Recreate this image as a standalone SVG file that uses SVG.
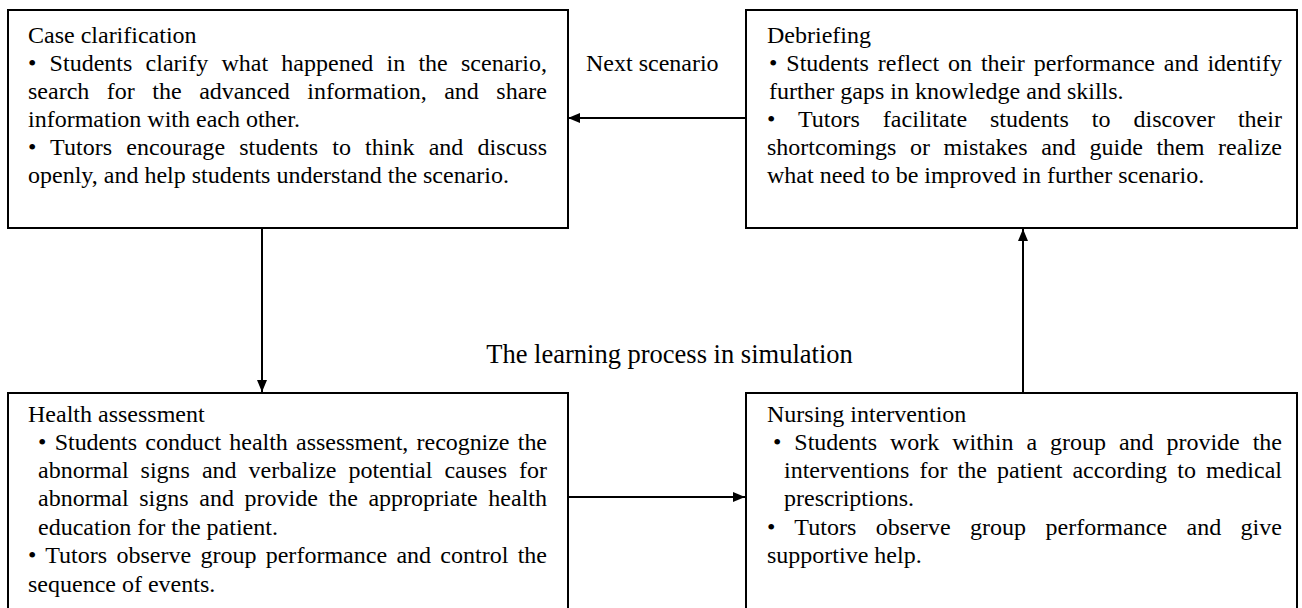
<svg xmlns="http://www.w3.org/2000/svg" width="1302" height="608" viewBox="0 0 1302 608">
<defs>
<marker id="ah" viewBox="0 0 12 10" refX="12" refY="5" markerWidth="12" markerHeight="10" markerUnits="userSpaceOnUse" orient="auto">
<path d="M0,0 L12,5 L0,10 z" fill="#000"/>
</marker>
<style>
.box{fill:#fff;stroke:#000;stroke-width:2}
text{font-family:"Liberation Serif","Times New Roman",serif;font-size:24px;fill:#000}
.conn line{stroke:#000;stroke-width:2;marker-end:url(#ah)}
</style>
</defs>
<rect width="1302" height="608" fill="#fff"/>
<g class="conn">
<line x1="262" y1="228" x2="262" y2="392"/>
<line x1="567" y1="497" x2="745" y2="497"/>
<line x1="1023" y1="393" x2="1023" y2="229"/>
<line x1="746" y1="118" x2="568" y2="118"/>
</g>
<g id="case">
<rect class="box" x="8" y="10" width="560" height="218"/>
<text x="28" y="43">Case clarification</text>
<text x="28" y="71" word-spacing="7.2" textLength="519" lengthAdjust="spacing">• Students clarify what happened in the scenario,</text>
<text x="28" y="99" word-spacing="11.5" textLength="519" lengthAdjust="spacing">search for the advanced information, and share</text>
<text x="28" y="127">information with each other.</text>
<text x="28" y="155" word-spacing="8.1" textLength="519" lengthAdjust="spacing">• Tutors encourage students to think and discuss</text>
<text x="28" y="183">openly, and help students understand the scenario.</text>
</g>
<g id="debrief">
<rect class="box" x="746" y="10" width="551" height="218"/>
<text x="767" y="43">Debriefing</text>
<text x="769" y="71" word-spacing="2.9" textLength="513" lengthAdjust="spacing">• Students reflect on their performance and identify</text>
<text x="769" y="99">further gaps in knowledge and skills.</text>
<text x="767" y="127" word-spacing="16.9" textLength="515" lengthAdjust="spacing">• Tutors facilitate students to discover their</text>
<text x="767" y="155" word-spacing="7.6" textLength="515" lengthAdjust="spacing">shortcomings or mistakes and guide them realize</text>
<text x="767" y="183">what need to be improved in further scenario.</text>
</g>
<g id="health">
<rect class="box" x="8" y="393" width="560" height="230"/>
<text x="28" y="422">Health assessment</text>
<text x="38" y="450" word-spacing="2.4" textLength="509" lengthAdjust="spacing">• Students conduct health assessment, recognize the</text>
<text x="38" y="478" word-spacing="6.0" textLength="509" lengthAdjust="spacing">abnormal signs and verbalize potential causes for</text>
<text x="38" y="506" word-spacing="4.6" textLength="509" lengthAdjust="spacing">abnormal signs and provide the appropriate health</text>
<text x="38" y="535">education for the patient.</text>
<text x="28" y="563" word-spacing="3.2" textLength="519" lengthAdjust="spacing">• Tutors observe group performance and control the</text>
<text x="28" y="592">sequence of events.</text>
</g>
<g id="nursing">
<rect class="box" x="746" y="393" width="551" height="230"/>
<text x="767" y="422">Nursing intervention</text>
<text x="773" y="450" word-spacing="6.9" textLength="509" lengthAdjust="spacing">• Students work within a group and provide the</text>
<text x="784" y="478" word-spacing="4.1" textLength="498" lengthAdjust="spacing">interventions for the patient according to medical</text>
<text x="784" y="506">prescriptions.</text>
<text x="767" y="535" word-spacing="13.3" textLength="515" lengthAdjust="spacing">• Tutors observe group performance and give</text>
<text x="767" y="563">supportive help.</text>
</g>
<g id="labels">
<text x="586" y="71">Next scenario</text>
<text x="669.5" y="363" text-anchor="middle" style="font-size:26.5px">The learning process in simulation</text>
</g>
</svg>
